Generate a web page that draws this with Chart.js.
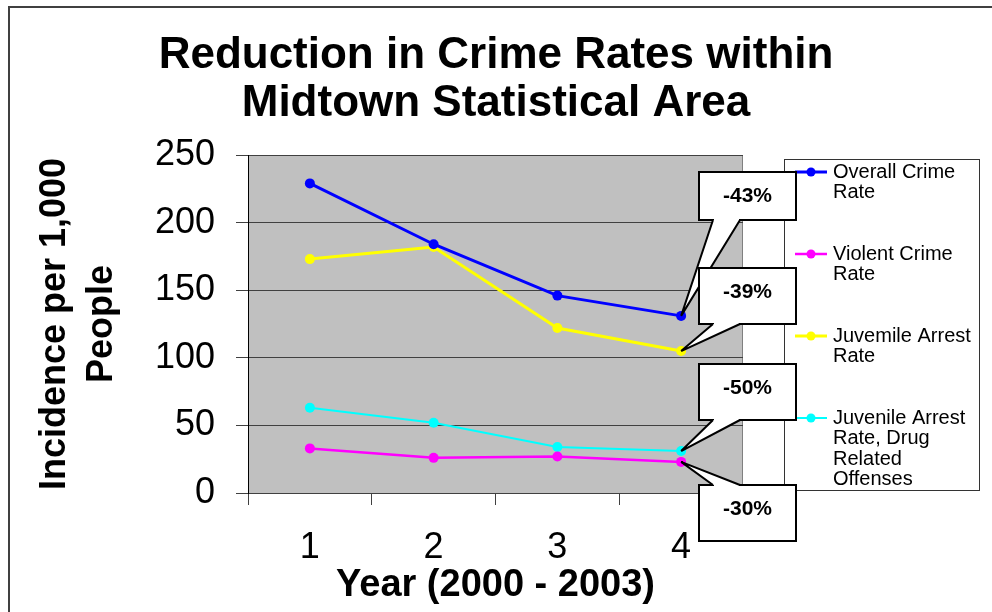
<!DOCTYPE html>
<html>
<head>
<meta charset="utf-8">
<script src="https://cdn.jsdelivr.net/npm/chart.js@4.4.1/dist/chart.umd.min.js"></script>
<style>
  html, body { margin: 0; padding: 0; background: #fff; }
  #wrap { width: 992px; height: 612px; }
</style>
</head>
<body>
<div id="wrap"><canvas id="crime-chart"></canvas></div>
<script>
var years = ['1', '2', '3', '4'];
var seriesNames = ['Overall Crime Rate', 'Violent Crime Rate', 'Juvemile Arrest Rate',
  'Juvenile Arrest Rate, Drug Related Offenses'];
var overallCrime = [229, 184, 146, 131];
var violentCrime = [33, 26, 27, 23];
var juvenileArrest = [173, 182, 122, 105];
var juvenileDrug = [63, 52, 34, 31];
var yTicks = [0, 50, 100, 150, 200, 250];
// change from year 1 to year 4, same order as the series
var changeLabels = ['-43%', '-30%', '-39%', '-50%'];

var FONT = '"Liberation Sans", Arial, sans-serif';
Chart.defaults.font.family = FONT;
Chart.defaults.color = '#000';

// where the callout boxes sit (pixels), one per series
var calloutBoxes = [
  { left: 699, top: 172, width: 97, height: 48, side: 'bottom' },
  { left: 699, top: 485, width: 97, height: 56, side: 'top' },
  { left: 699, top: 268, width: 97, height: 56, side: 'bottom' },
  { left: 699, top: 364, width: 97, height: 56, side: 'bottom' }
];

function makeSeries(label, data, color, width) {
  return {
    label: label,
    data: data,
    borderColor: color,
    backgroundColor: color,
    borderWidth: width,
    pointRadius: 5,
    pointBorderWidth: 0,
    pointBackgroundColor: color,
    tension: 0
  };
}

function wrapText(ctx, text, maxWidth) {
  var words = text.split(' '), lines = [], line = '';
  words.forEach(function (w) {
    var test = line ? line + ' ' + w : w;
    if (line && ctx.measureText(test).width > maxWidth) {
      lines.push(line);
      line = w;
    } else {
      line = test;
    }
  });
  lines.push(line);
  return lines;
}

function drawLegend(chart) {
  var ctx = chart.ctx;
  ctx.save();
  ctx.fillStyle = '#fff';
  ctx.fillRect(784, 159, 195, 331);
  ctx.strokeStyle = '#333';
  ctx.lineWidth = 1;
  ctx.strokeRect(784.5, 159.5, 195, 331);
  ctx.font = '20px ' + FONT;
  ctx.textAlign = 'left';
  ctx.textBaseline = 'middle';
  chart.data.datasets.forEach(function (ds, i) {
    var y = 172 + i * 82;
    ctx.strokeStyle = ds.borderColor;
    ctx.lineWidth = ds.borderWidth;
    ctx.beginPath();
    ctx.moveTo(795, y);
    ctx.lineTo(827, y);
    ctx.stroke();
    ctx.fillStyle = ds.borderColor;
    ctx.beginPath();
    ctx.arc(811, y, 4.5, 0, Math.PI * 2);
    ctx.fill();
    ctx.fillStyle = '#000';
    wrapText(ctx, ds.label, 145).forEach(function (line, k) {
      ctx.fillText(line, 833, y + k * 20.5);
    });
  });
  ctx.restore();
}

// reserves the space on the right for the legend
var legendSpace = {
  id: 'legendSpace',
  beforeInit: function (chart) {
    Chart.layouts.addBox(chart, {
      position: 'right',
      weight: 0,
      fullSize: false,
      options: {},
      width: 249,
      height: 0,
      isHorizontal: function () { return false; },
      update: function (maxWidth, maxHeight) {
        this.width = 249;
        this.height = maxHeight;
      },
      draw: function () { drawLegend(chart); }
    });
  }
};

var plotBackground = {
  id: 'plotBackground',
  beforeDraw: function (chart) {
    var ctx = chart.ctx, a = chart.chartArea;
    ctx.save();
    ctx.fillStyle = '#fff';
    ctx.fillRect(0, 0, chart.width, chart.height);
    ctx.strokeStyle = '#404040';
    ctx.lineWidth = 2;
    ctx.strokeRect(9, 7, chart.width + 20, chart.height + 20);
    ctx.fillStyle = '#c0c0c0';
    ctx.fillRect(a.left, a.top, a.right - a.left, a.bottom - a.top);
    ctx.strokeStyle = '#808080';
    ctx.lineWidth = 1;
    ctx.strokeRect(a.left + 0.5, a.top + 0.5, a.right - a.left - 1, a.bottom - a.top);
    ctx.restore();
  }
};

var callouts = {
  id: 'callouts',
  afterDatasetsDraw: function (chart) {
    var ctx = chart.ctx;
    chart.data.datasets.forEach(function (ds, i) {
      var meta = chart.getDatasetMeta(i);
      var pt = meta.data[meta.data.length - 1];
      var box = calloutBoxes[i];
      var l = box.left, t = box.top, w = box.width, h = box.height;
      var edgeY = box.side === 'top' ? t : t + h;
      var b1 = l + 14, b2 = l + 41;
      ctx.save();
      ctx.fillStyle = '#fff';
      ctx.strokeStyle = '#000';
      ctx.lineWidth = 2;
      ctx.fillRect(l, t, w, h);
      ctx.strokeRect(l, t, w, h);
      ctx.beginPath();
      ctx.moveTo(b1, edgeY);
      ctx.lineTo(pt.x, pt.y);
      ctx.lineTo(b2, edgeY);
      ctx.closePath();
      ctx.fill();
      ctx.fillRect(b1 + 1, edgeY - 1.5, b2 - b1 - 2, 3);
      ctx.beginPath();
      ctx.moveTo(b1, edgeY);
      ctx.lineTo(pt.x, pt.y);
      ctx.moveTo(b2, edgeY);
      ctx.lineTo(pt.x, pt.y);
      ctx.stroke();
      ctx.fillStyle = '#000';
      ctx.font = 'bold 21px ' + FONT;
      ctx.textAlign = 'center';
      ctx.textBaseline = 'middle';
      ctx.fillText(changeLabels[i], l + w / 2, t + 24);
      ctx.restore();
    });
  }
};

var crimeChart = new Chart(document.getElementById('crime-chart'), {
  type: 'line',
  data: {
    labels: years,
    datasets: [
      makeSeries(seriesNames[0], overallCrime, '#0000ff', 3),
      makeSeries(seriesNames[1], violentCrime, '#ff00ff', 2.5),
      makeSeries(seriesNames[2], juvenileArrest, '#ffff00', 3),
      makeSeries(seriesNames[3], juvenileDrug, '#00ffff', 2)
    ]
  },
  options: {
    responsive: true,
    maintainAspectRatio: false,
    animation: false,
    layout: { padding: 0 },
    plugins: {
      legend: { display: false },
      tooltip: { enabled: false },
      title: {
        display: true,
        text: ['Reduction in Crime Rates within', 'Midtown Statistical Area'],
        color: '#000',
        font: { size: 44, weight: 'bold', lineHeight: 48 / 44 },
        padding: { top: 32, bottom: 27 }
      }
    },
    scales: {
      x: {
        offset: true,
        grid: {
          drawOnChartArea: false,
          drawTicks: true,
          tickLength: 12,
          offset: true,
          color: '#404040'
        },
        border: { color: '#404040' },
        ticks: { font: { size: 36, lineHeight: 1 }, padding: 25, maxRotation: 0 },
        title: {
          display: true,
          text: 'Year (2000 - 2003)',
          font: { size: 38, weight: 'bold', lineHeight: 1 },
          // the title tucks in under the tick labels
          padding: { top: -24, bottom: 7 }
        }
      },
      y: {
        min: yTicks[0],
        max: yTicks[yTicks.length - 1],
        ticks: { stepSize: yTicks[1] - yTicks[0], font: { size: 36 }, padding: 21 },
        grid: { color: '#404040', tickLength: 12 },
        border: { color: '#000' },
        title: {
          display: true,
          text: ['Incidence per 1,000', 'People'],
          font: { size: 36, weight: 'bold', lineHeight: 47 / 36 },
          padding: { top: 32, bottom: 35 }
        }
      }
    }
  },
  plugins: [plotBackground, legendSpace, callouts]
});
</script>
</body>
</html>
